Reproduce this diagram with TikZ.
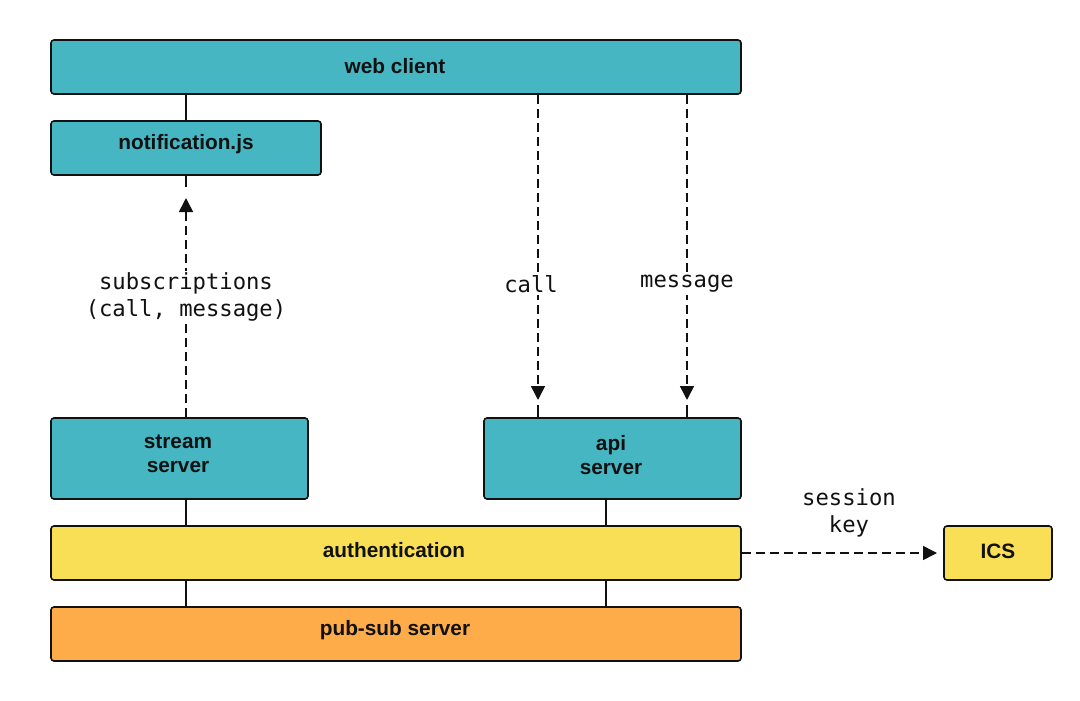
\documentclass[tikz,border=0pt]{standalone}
\usepackage{fontspec}
\setmainfont{Liberation Sans}
\setmonofont{DejaVu Sans Mono}
\usetikzlibrary{arrows.meta}
\definecolor{teal1}{HTML}{45B6C2}
\definecolor{yel1}{HTML}{F8DF55}
\definecolor{org1}{HTML}{FEAC4A}
\definecolor{ink}{HTML}{111111}
\begin{document}
\begin{tikzpicture}[x=1pt,y=-1pt,
  box/.style={draw=ink,line width=1.6pt,rounded corners=3pt,inner sep=0pt},
  blbl/.style={font=\fontsize{20.8}{24}\selectfont\bfseries,text=ink,align=center,inner sep=0pt},
  mlbl/.style={font=\fontsize{22.2}{27}\ttfamily,text=ink,fill=white,align=center,inner sep=2pt},
  conn/.style={draw=ink,line width=1.6pt},
  dconn/.style={conn,dash pattern=on 9pt off 5pt},
  tip/.style={-{Triangle[length=14pt,width=14pt]}}]
\useasboundingbox (0,0) rectangle (1080,701);
% boxes
\node[box,fill=teal1,minimum width=690pt,minimum height=54pt] (web) at (396,67) {};
\node[box,fill=teal1,minimum width=270pt,minimum height=54pt] (notif) at (186,148) {};
\node[box,fill=teal1,minimum width=257pt,minimum height=81pt] (stream) at (179.5,458.5) {};
\node[box,fill=teal1,minimum width=257pt,minimum height=81pt] (api) at (612.5,458.5) {};
\node[box,fill=yel1,minimum width=690pt,minimum height=54pt] (auth) at (396,553) {};
\node[box,fill=yel1,minimum width=108pt,minimum height=54pt] (ics) at (998,553) {};
\node[box,fill=org1,minimum width=690pt,minimum height=54pt] (pubsub) at (396,634) {};
% box texts
\node[blbl] (tweb) at (395,66) {web client};
\node[blbl] (tnotif) at (186,144) {notification.js};
\node[blbl] (tstream) at (178,454) {stream\\server};
\node[blbl] (tapi) at (611,455) {api\\server};
\node[blbl] (tauth) at (394,550) {authentication};
\node[blbl] (tics) at (998,551) {ICS};
\node[blbl] (tpubsub) at (395,630) {pub-sub server};
% coordinates
\coordinate (n1) at (186,198);
\coordinate (n2) at (186,187);
\coordinate (c1) at (538,400);
\coordinate (c2) at (538,405);
\coordinate (m1) at (687,400);
\coordinate (m2) at (687,405);
\coordinate (k1) at (937,553);
% solid links
\draw[conn] (web.south -| n1) -- (notif.north -| n1);
\draw[conn] (notif.south -| n2) -- (n2);
\draw[conn] (stream.south -| n1) -- (auth.north -| n1);
\draw[conn] (auth.south -| n1) -- (pubsub.north -| n1);
\draw[conn] (api.south -| 606,0) -- (auth.north -| 606,0);
\draw[conn] (auth.south -| 606,0) -- (pubsub.north -| 606,0);
\draw[conn] (c2) -- (api.north -| c2);
\draw[conn] (m2) -- (api.north -| m2);
% dashed arrows
\draw[dconn,tip] (stream.north -| n1) -- (n1);
\draw[dconn,tip] (web.south -| c1) -- (c1);
\draw[dconn,tip] (web.south -| m1) -- (m1);
\draw[dconn,tip] (auth.east) -- (k1);
% labels
\node[mlbl] (lsub) at (186,297) {subscriptions\\(call, message)};
\node[mlbl] (lcall) at (531,284) {call};
\node[mlbl] (lmsg) at (687,284) {message};
\node[mlbl,fill=none] (lkey) at (849,513) {session\\key};
\end{tikzpicture}
\end{document}
